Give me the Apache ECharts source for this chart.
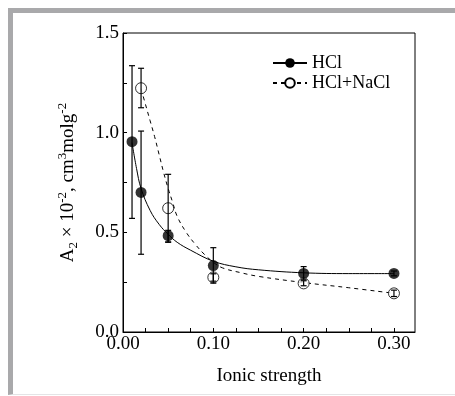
<!DOCTYPE html>
<html>
<head>
<meta charset="utf-8">
<script src="https://cdn.jsdelivr.net/npm/echarts@6/dist/echarts.min.js"></script>
<style>
  html, body { margin: 0; padding: 0; background: #fff; }
  #wrap { position: relative; width: 455px; height: 396px; overflow: hidden; }
  #frame {
    position: absolute; left: 8px; top: 8px; right: -10px; bottom: 1px;
    border-top: 5px solid #a9a9ab; border-left: 5px solid #a9a9ab;
    border-bottom: 1px solid #e4e4e6;
  }
  #chart { position: absolute; left: 0; top: 0; width: 455px; height: 396px; }
</style>
</head>
<body>
<div id="wrap">
  <div id="frame"></div>
  <div id="chart"></div>
</div>
<script>
// measured points
const hclX = [0.01, 0.02, 0.05, 0.10, 0.20, 0.30];
const hclY = [0.955, 0.70, 0.483, 0.333, 0.294, 0.294];
const hclLow = [0.57, 0.39, 0.452, 0.245, 0.262, 0.282];
const hclHigh = [1.336, 1.008, 0.51, 0.423, 0.328, 0.306];

const mixX = [0.02, 0.05, 0.10, 0.20, 0.30];
const mixY = [1.223, 0.621, 0.274, 0.244, 0.194];
const mixLow = [1.125, 0.45, 0.255, 0.232, 0.178];
const mixHigh = [1.323, 0.791, 0.292, 0.257, 0.21];

// fitted curves
const hclFitX = [0.01, 0.015, 0.02, 0.03, 0.04, 0.05, 0.06, 0.075, 0.10, 0.125, 0.15, 0.20, 0.25, 0.30];
const hclFitY = [0.95, 0.82, 0.72, 0.61, 0.54, 0.49, 0.45, 0.41, 0.355, 0.327, 0.312, 0.297, 0.293, 0.293];

const mixFitX = [0.02, 0.025, 0.03, 0.035, 0.04, 0.045, 0.05, 0.055, 0.06, 0.07, 0.08, 0.09, 0.10, 0.11, 0.13, 0.15, 0.20, 0.25, 0.30];
const mixFitY = [1.22, 1.14, 1.06, 0.98, 0.89, 0.80, 0.72, 0.65, 0.58, 0.50, 0.44, 0.39, 0.35, 0.322, 0.298, 0.279, 0.248, 0.222, 0.194];

const xTicks = ['0.00', '0.10', '0.20', '0.30'];
const yTicks = ['0.0', '0.5', '1.0', '1.5'];

const zip = (a, b) => a.map((v, i) => [v, b[i]]);
const font = 'Liberation Serif';

function errorBars(xs, lows, highs, z) {
  return {
    type: 'custom',
    z: z,
    silent: true,
    data: xs.map((x, i) => [x, lows[i], highs[i]]),
    renderItem: (params, api) => {
      const lo = api.coord([api.value(0), api.value(1)]);
      const hi = api.coord([api.value(0), api.value(2)]);
      const w = 3;
      const style = { stroke: '#000', lineWidth: 1.2 };
      return {
        type: 'group',
        children: [
          { type: 'line', shape: { x1: hi[0], y1: hi[1], x2: lo[0], y2: lo[1] }, style },
          { type: 'line', shape: { x1: hi[0] - w, y1: hi[1], x2: hi[0] + w, y2: hi[1] }, style },
          { type: 'line', shape: { x1: lo[0] - w, y1: lo[1], x2: lo[0] + w, y2: lo[1] }, style },
        ],
      };
    },
  };
}

const chart = echarts.init(document.getElementById('chart'), null, { renderer: 'canvas' });

const option = {
  animation: false,
  textStyle: { fontFamily: font },
  grid: { left: 123, top: 33, width: 292, height: 299 },
  legend: {
    orient: 'vertical',
    left: 272,
    top: 54,
    padding: 0,
    itemWidth: 34,
    itemHeight: 12,
    itemGap: 2,
    data: ['HCl', 'HCl+NaCl'],
    textStyle: { fontFamily: font, fontSize: 18, color: '#000', padding: [0, 0, 0, 0] },
  },
  xAxis: {
    type: 'value',
    min: 0,
    max: 0.3233,
    interval: 0.025,
    name: 'Ionic strength',
    nameLocation: 'middle',
    nameGap: 35,
    nameTextStyle: { fontFamily: font, fontSize: 19, color: '#000' },
    axisLine: { onZero: false, lineStyle: { color: '#000', width: 1 } },
    axisTick: { inside: true, length: 4, lineStyle: { color: '#000' } },
    axisLabel: {
      fontFamily: font, fontSize: 19, color: '#000', margin: 3, showMaxLabel: false,
      formatter: v => {
        const i = Math.round(v * 10);
        return Math.abs(v * 10 - i) < 1e-6 ? xTicks[i] : '';
      },
    },
    splitLine: { show: false },
  },
  yAxis: {
    type: 'value',
    min: 0,
    max: 1.5,
    interval: 0.25,
    name: '{t|A}{s|2}{t| × 10}{p|-2}{t|, cm}{p|3}{t|molg}{p|-2}',
    nameLocation: 'middle',
    nameGap: 42,
    nameRotate: 90,
    nameTextStyle: {
      fontFamily: font, fontSize: 19, color: '#000',
      rich: {
        t: { fontFamily: font, fontSize: 19, color: '#000', lineHeight: 26, verticalAlign: 'middle' },
        s: { fontFamily: font, fontSize: 13, color: '#000', lineHeight: 26, verticalAlign: 'bottom', padding: [0, 0, 1, 0] },
        p: { fontFamily: font, fontSize: 13, color: '#000', lineHeight: 26, verticalAlign: 'top', padding: [1, 0, 0, 0] },
      },
    },
    axisLine: { onZero: false, lineStyle: { color: '#000', width: 1 } },
    axisTick: { inside: true, length: 4, lineStyle: { color: '#000' } },
    axisLabel: {
      fontFamily: font, fontSize: 19, color: '#000', margin: 4,
      formatter: v => {
        const i = Math.round(v * 2);
        return Math.abs(v * 2 - i) < 1e-6 ? yTicks[i] : '';
      },
    },
    splitLine: { show: false },
  },
  graphic: [
    {
      type: 'rect',
      shape: { x: 123, y: 33, width: 292, height: 299 },
      style: { fill: 'none', stroke: '#000', lineWidth: 1 },
      silent: true,
      z: 5,
    },
  ],
  series: [
    {
      name: 'HCl',
      type: 'line',
      data: zip(hclFitX, hclFitY),
      smooth: 0.4,
      showSymbol: false,
      symbol: 'circle',
      symbolSize: 11,
      itemStyle: { color: '#000', borderColor: '#000' },
      lineStyle: { color: '#000', width: 1 },
      z: 2,
    },
    {
      name: 'HCl+NaCl',
      type: 'line',
      data: zip(mixFitX, mixFitY),
      smooth: 0.4,
      showSymbol: false,
      symbol: 'circle',
      symbolSize: 11,
      itemStyle: { color: '#fff', borderColor: '#000', borderWidth: 1 },
      lineStyle: { color: '#000', width: 1, type: [4, 4] },
      z: 2,
    },
    {
      type: 'scatter',
      data: zip(mixX, mixY),
      symbol: 'circle',
      symbolSize: 11,
      itemStyle: { color: '#fff', borderColor: '#000', borderWidth: 1 },
      z: 3,
    },
    errorBars(hclX, hclLow, hclHigh, 4),
    errorBars(mixX, mixLow, mixHigh, 4),
    {
      type: 'scatter',
      data: zip(hclX, hclY),
      symbol: 'circle',
      symbolSize: 11,
      itemStyle: { color: '#000' },
      z: 6,
    },
  ],
};

chart.setOption(option);
</script>
</body>
</html>
